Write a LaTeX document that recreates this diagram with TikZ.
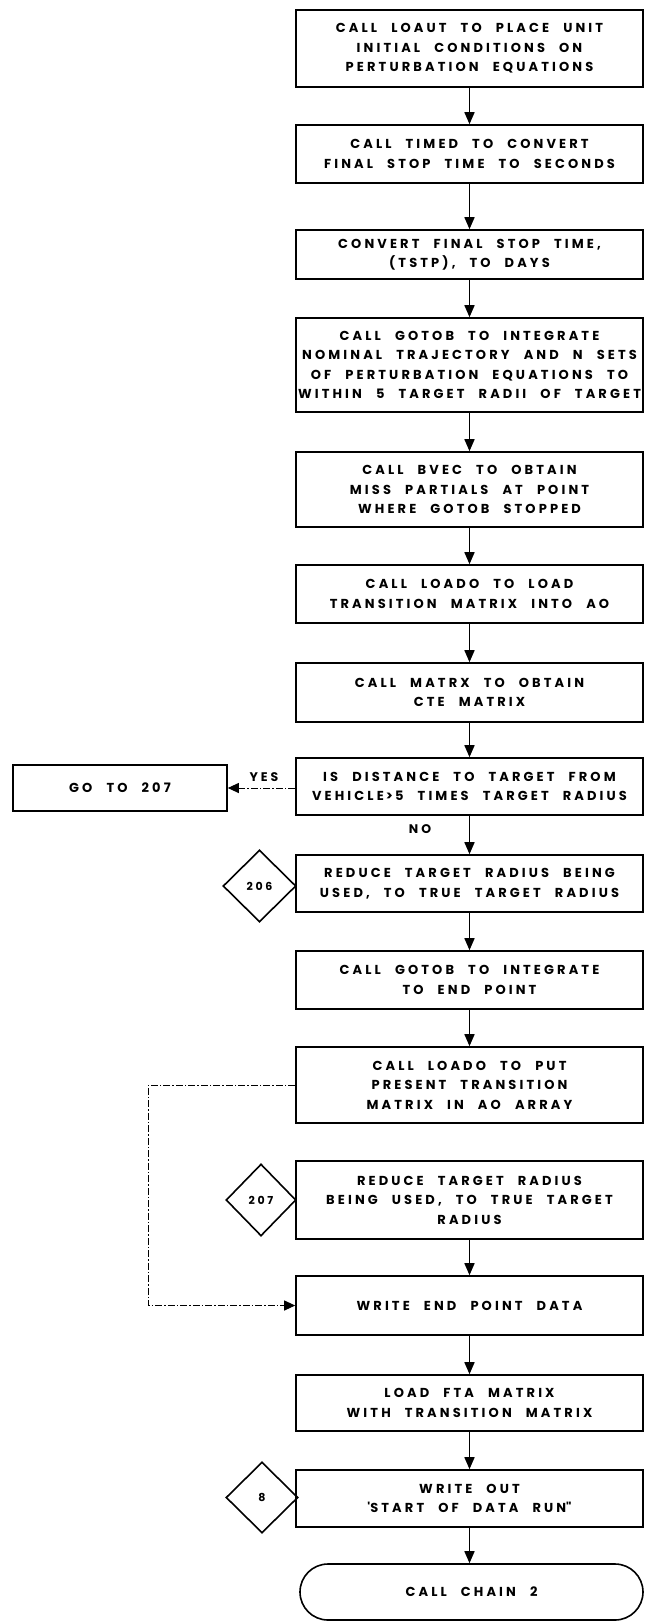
\documentclass[tikz,border=0pt]{standalone}
\usepackage{fontspec}
\setmainfont{Poppins}[LetterSpace=24,WordSpace=2.4]
\usetikzlibrary{arrows.meta,shapes.geometric}
\begin{document}
\begin{tikzpicture}[x=1pt,y=-1pt,
  lw/.style={line width=1.6pt},
  box/.style={draw, lw, minimum width=347pt, inner sep=0pt, align=center,
    font=\fontsize{13}{19.5}\selectfont\bfseries},
  diam/.style={draw, lw, diamond, shape aspect=1, inner sep=0pt,
    font=\fontsize{11}{11}\selectfont\bfseries},
  arr/.style={lw, -{Triangle[length=12pt,width=10pt]}},
  dd/.style={line width=1pt, dash pattern=on 7pt off 2pt on 1.5pt off 2pt},
  lbl/.style={font=\fontsize{12.5}{12}\selectfont\bfseries, inner sep=0pt}]
\useasboundingbox (0,0) rectangle (646,1623);
\node[box, minimum height=77pt] (b1) at (469.5,48.5) {CALL LOAUT TO PLACE UNIT\\INITIAL CONDITIONS ON\\PERTURBATION EQUATIONS};
\node[box, minimum height=58pt] (b2) at (469.5,154) {CALL TIMED TO CONVERT\\FINAL STOP TIME TO SECONDS};
\node[box, minimum height=49pt] (b3) at (469.5,254.5) {CONVERT FINAL STOP TIME,\\(TSTP), TO DAYS};
\node[box, minimum height=94pt] (b4) at (469.5,365) {CALL GOTOB TO INTEGRATE\\NOMINAL TRAJECTORY AND N SETS\\OF PERTURBATION EQUATIONS TO\\WITHIN 5 TARGET RADII OF TARGET};
\node[box, minimum height=75pt] (b5) at (469.5,489.5) {CALL BVEC TO OBTAIN\\MISS PARTIALS AT POINT\\WHERE GOTOB STOPPED};
\node[box, minimum height=58pt] (b6) at (469.5,594) {CALL LOADO TO LOAD\\TRANSITION MATRIX INTO AO};
\node[box, minimum height=59pt] (b7) at (469.5,692.5) {CALL MATRX TO OBTAIN\\CTE MATRIX};
\node[box, minimum height=57pt] (b8) at (469.5,786.5) {IS DISTANCE TO TARGET FROM\\VEHICLE\,>\,5 TIMES TARGET RADIUS};
\node[box, minimum height=57pt] (b9) at (469.5,883.5) {REDUCE TARGET RADIUS BEING\\USED, TO TRUE TARGET RADIUS};
\node[box, minimum height=58pt] (b10) at (469.5,980) {CALL GOTOB TO INTEGRATE\\TO END POINT};
\node[box, minimum height=76pt] (b11) at (469.5,1085) {CALL LOADO TO PUT\\PRESENT TRANSITION\\MATRIX IN AO ARRAY};
\node[box, minimum height=78pt] (b12) at (469.5,1200) {REDUCE TARGET RADIUS\\BEING USED, TO TRUE TARGET\\RADIUS};
\node[box, minimum height=59pt] (b13) at (469.5,1305.5) {WRITE END POINT DATA};
\node[box, minimum height=56pt] (b14) at (469.5,1403) {LOAD FTA MATRIX\\WITH TRANSITION MATRIX};
\node[box, minimum height=57pt] (b15) at (469.5,1498.5) {WRITE OUT\\\textquotesingle START OF DATA RUN\textquotedbl};
\node[box, minimum height=56pt, minimum width=343pt, rounded corners=28pt] (b16) at (471.5,1592) {CALL CHAIN 2};
\node[box, minimum height=46pt, minimum width=214pt] (g207) at (120,788) {GO TO 207};
\node[diam, minimum width=73pt, minimum height=72pt] (d206) at (259.5,886) {206};
\node[diam, minimum width=70pt, minimum height=72pt] (d207) at (261,1200) {207};
\node[diam, minimum width=72pt, minimum height=71pt] (d8) at (262,1497.5) {8};
\node[lbl] (yes) at (264,777) {YES};
\node[lbl] (no) at (420,829) {NO};
\coordinate (cl) at (148,1085);
\draw[arr] (b1.south) -- (b2.north);
\draw[arr] (b2.south) -- (b3.north);
\draw[arr] (b3.south) -- (b4.north);
\draw[arr] (b4.south) -- (b5.north);
\draw[arr] (b5.south) -- (b6.north);
\draw[arr] (b6.south) -- (b7.north);
\draw[arr] (b7.south) -- (b8.north);
\draw[arr] (b8.south) -- (b9.north);
\draw[arr] (b9.south) -- (b10.north);
\draw[arr] (b10.south) -- (b11.north);
\draw[arr] (b12.south) -- (b13.north);
\draw[arr] (b13.south) -- (b14.north);
\draw[arr] (b14.south) -- (b15.north);
\draw[arr] (b15.south) -- (b16.north -| b15.south);
\draw[dd, -{Triangle[length=11pt,width=10pt]}] (b8.west |- g207.east) -- (g207.east);
\draw[dd, -{Triangle[length=11pt,width=10pt]}] (b11.west) -- (cl) |- (b13.west);
\end{tikzpicture}
\end{document}
